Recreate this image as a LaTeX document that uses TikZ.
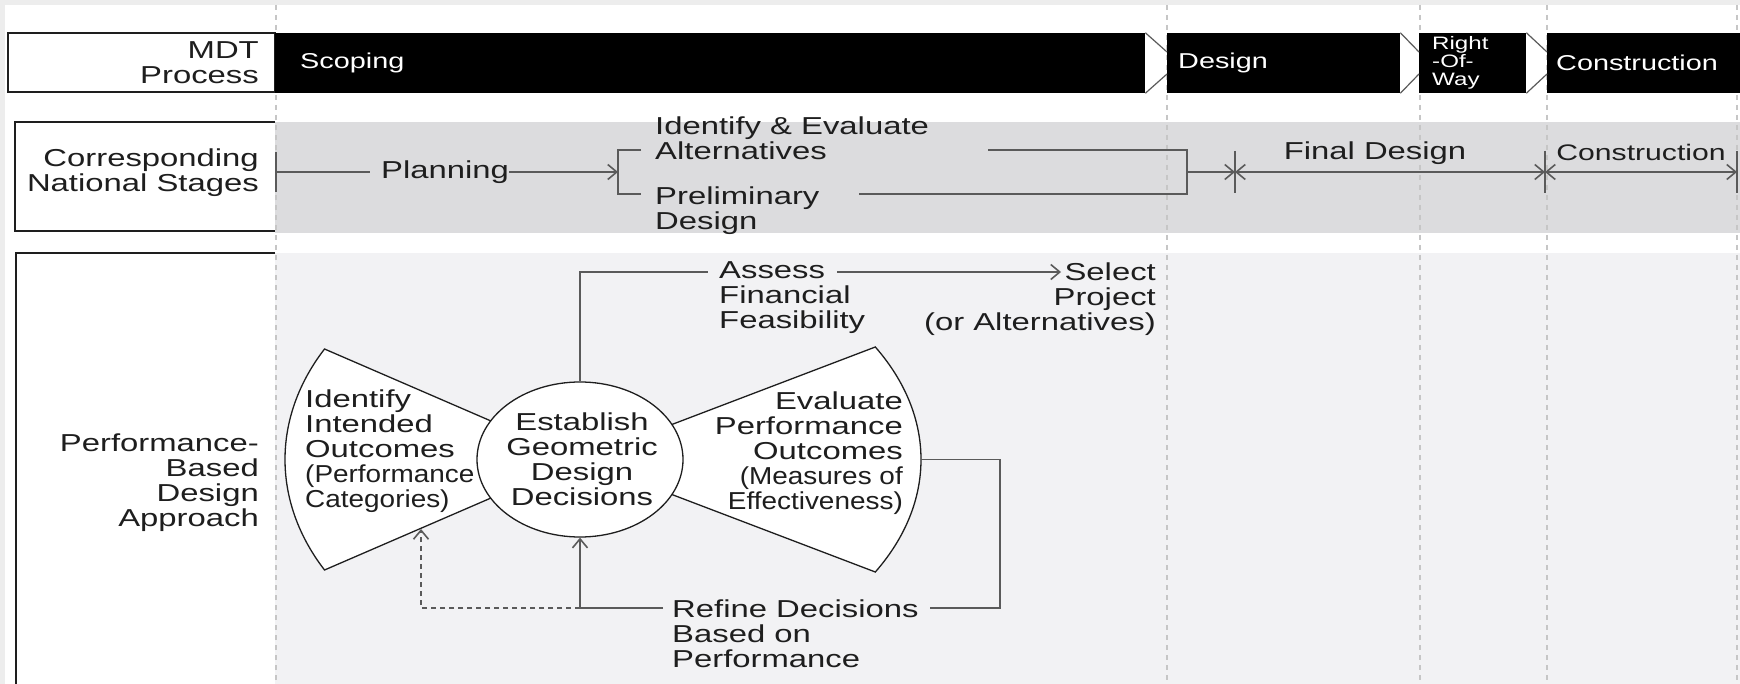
\documentclass[tikz,border=0pt]{standalone}
\usepackage{fontspec}
\setmainfont{Liberation Sans}[FakeStretch=1.34]
\newfontfamily\condensedfont{Liberation Sans}[FakeStretch=1.14]
\usetikzlibrary{positioning,arrows.meta,shapes.geometric}

\definecolor{bandgray}{HTML}{DCDCDE}
\definecolor{panelgray}{HTML}{F2F2F4}
\definecolor{framegray}{HTML}{EDEDED}
\definecolor{linegray}{HTML}{5A5A5A}
\definecolor{gridgray}{HTML}{C6C6C6}
\definecolor{inkgray}{HTML}{1E1E1E}

\tikzset{
  lbl/.style={font=\fontsize{24.5}{25}\selectfont, text=inkgray, inner sep=0pt},
  rowbox/.style={draw=inkgray, line width=1.6pt},
  phasebar/.style={fill=black, minimum height=60pt, inner sep=0pt, anchor=west},
  bartext/.style={font=\fontsize{21.5}{22}\selectfont, text=white, inner sep=0pt},
  conn/.style={draw=linegray, line width=1.6pt},
  vtip/.style={-{Straight Barb[length=9pt,width=15pt]}},
  vtips/.style={{Straight Barb[length=9pt,width=15pt]}-{Straight Barb[length=9pt,width=15pt]}},
  wedgeline/.style={draw=inkgray, line width=1.3pt, fill=white},
  circ/.style={ellipse, draw=inkgray, line width=1.3pt, fill=white, minimum width=206pt, minimum height=155pt, inner sep=0pt},
  gridline/.style={draw=gridgray, line width=1.3pt, dash pattern=on 5pt off 5pt},
}

\begin{document}
\begin{tikzpicture}[x=1pt, y=-1pt]
    \def\barmid{63}
    \def\stagey{172}

    % frame
    \fill[framegray] (0,0) rectangle (1740,684);
    \fill[white] (5,5) rectangle (1740,684);
    \useasboundingbox (0,0) rectangle (1740,684);

    % bands
    \fill[bandgray] (275,122) rectangle (1740,233);
    \fill[panelgray] (275,253) rectangle (1740,684);

    % dashed columns
    \foreach \gx in {276,1167,1420,1547,1737}
        \draw[gridline] (\gx,5) -- (\gx,684);

    % label boxes
    \draw[rowbox, fill=white] (8,33) rectangle (275,92);
    \fill[white] (15,122) rectangle (275,231);
    \draw[rowbox] (275,122) -- (15,122) -- (15,231) -- (275,231);
    \fill[white] (16,253) rectangle (275,684);
    \draw[rowbox] (275,253) -- (16,253) -- (16,690);

    % row 1: MDT process
    \node[lbl, align=right, anchor=east] (mdt) at (259,63) {MDT\\Process};
    \node[phasebar, minimum width=870pt] (scoping) at (275,\barmid) {};
    \node[phasebar, minimum width=233pt] (design) at (1167,\barmid) {};
    \node[phasebar, minimum width=107pt] (row) at (1419,\barmid) {};
    \node[phasebar, minimum width=193pt] (build) at (1547,\barmid) {};
    \foreach \a/\b in {scoping/design, design/row, row/build} {
        \draw[linegray, line width=1.2pt] (\a.north east) -- ([yshift=11pt]\b.west);
        \draw[linegray, line width=1.2pt] (\a.south east) -- ([yshift=-11pt]\b.west);
    }
    \node[bartext, right=25pt of scoping.west] (scopingtxt) {Scoping};
    \node[bartext, right=11pt of design.west] (designtxt) {Design};
    \node[bartext, right=13pt of row.west, align=left, font=\fontsize{18}{18}\selectfont] (rowtxt) {Right\\-Of-\\Way};
    \node[bartext, right=9pt of build.west] (buildtxt) {Construction};

    % row 2: national stages
    \node[lbl, align=right, anchor=east] (stages) at (259,173) {Corresponding\\National Stages};
    \coordinate (stagestart) at (276,\stagey);
    \coordinate (brmid) at (618,\stagey);
    \node[lbl] (planning) at (445,\stagey) {Planning};
    \draw[conn] (276,152) -- (276,192);
    \draw[conn] (stagestart) -- ([xshift=-11pt]planning.west);
    \draw[conn, vtip] (planning.east) -- (brmid);
    \draw[conn] (641,150) -- (618,150) -- (618,194) -- (641,194);
    \node[lbl, align=left, anchor=west] (altern) at (655,138) {Identify \& Evaluate\\Alternatives};
    \node[lbl, align=left, anchor=west] (prelim) at (655,211) {Preliminary\\Design};
    \draw[conn] (988,150) -- (1187,150) -- (1187,194) -- (859,194);
    \coordinate (fdstart) at (1235,\stagey);
    \coordinate (fdend) at (1545,\stagey);
    \coordinate (cend) at (1737,\stagey);
    \draw[conn, vtip] (1187,\stagey) -- (fdstart);
    \foreach \tx in {1235,1545,1737}
        \draw[conn] (\tx,151) -- (\tx,193);
    \draw[conn, vtips] (fdstart) -- (fdend);
    \draw[conn, vtips] (fdend) -- (cend);
    \node[lbl] (finaldes) at (1375,153) {Final Design};
    \node[lbl, font=\fontsize{22.5}{25}\selectfont] (buildstage) at (1641,152) {Construction};

    % row 3: performance-based design
    \node[lbl, align=right, anchor=east] (pbd) at (259,483) {Performance-\\Based\hspace*{10pt}\\Design\hspace*{10pt}\\Approach};
    \coordinate (core) at (580,459.5);
    \draw[wedgeline] (core) -- ++(150:295pt and 221pt) arc[start angle=150, end angle=210, x radius=295pt, y radius=221pt] -- cycle;
    \draw[wedgeline] (core) -- ++(-30:341pt and 225pt) arc[start angle=-30, end angle=30, x radius=341pt, y radius=225pt] -- cycle;
    \coordinate (evaltip) at (921,459.5);
    \node[circ] (decide) at (core) {};
    \node[lbl, align=center] (decidetxt) at (582,459) {Establish\\Geometric\\Design\\Decisions};
    \node[lbl, align=left, anchor=west] (intended) at (305,451) {Identify\\Intended\\Outcomes\\{\condensedfont(Performance}\\{\condensedfont Categories)}};
    \node[lbl, align=right, anchor=east] (evalout) at (903,453) {Evaluate\\Performance\\Outcomes\\{\condensedfont(Measures of}\\{\condensedfont Effectiveness)}};

    % financial check
    \coordinate (assessin) at (708,272);
    \coordinate (assessout) at (837,272);
    \coordinate (selectin) at (1061,272);
    \node[lbl, align=left, anchor=west] (assess) at (719,298) {Assess\\Financial\\Feasibility};
    \node[lbl, align=right, anchor=east] (select) at (1156,299) {Select\\Project\\(or Alternatives)};
    \draw[conn] (decide.north) |- (assessin);
    \draw[conn, vtip] (assessout) -- (selectin);

    % refine loop
    \coordinate (refineout) at (930,608);
    \coordinate (refinein) at (663,608);
    \coordinate (split) at (580,608);
    \coordinate (intendedtip) at (421,529);
    \node[lbl, align=left, anchor=west] (refine) at (672,634) {Refine Decisions\\Based on\\Performance};
    \draw[conn] (evaltip) -- (1000,459.5) |- (refineout);
    \draw[conn, vtip] (refinein) -| (decide.south);
    \draw[conn, vtip, dash pattern=on 5pt off 4pt] (split) -| (intendedtip);
\end{tikzpicture}
\end{document}
